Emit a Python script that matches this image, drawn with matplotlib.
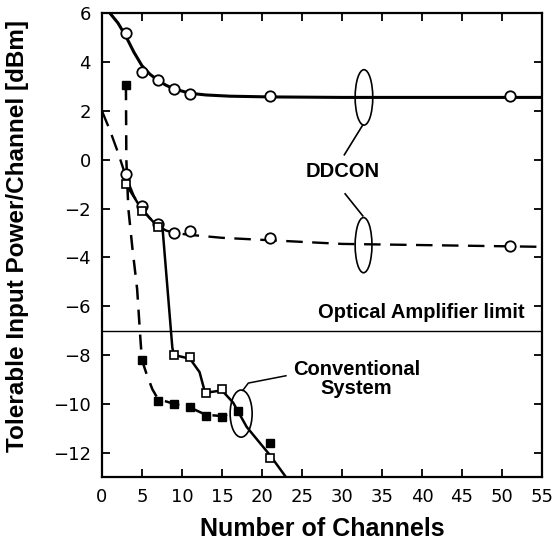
import matplotlib
matplotlib.use("Agg")
import matplotlib.pyplot as plt
from matplotlib.patches import Ellipse

# DDCON, upper group (open circles, solid curve)
ddcon_hi_x = [3, 5, 7, 9, 11, 21, 51]
ddcon_hi_y = [5.2, 3.6, 3.25, 2.9, 2.7, 2.6, 2.6]
ddcon_hi_fit_x = [1, 2, 3, 4, 5, 6, 7, 8, 9, 11, 13, 16, 21, 30, 55]
ddcon_hi_fit_y = [6.0, 5.6, 5.05, 4.4, 3.85, 3.5, 3.25, 3.05, 2.9, 2.72, 2.65, 2.6, 2.57, 2.55, 2.55]

# DDCON, lower group (open circles, dashed curve)
ddcon_lo_x = [3, 5, 7, 9, 11, 21, 51]
ddcon_lo_y = [-0.6, -1.9, -2.65, -3.0, -2.92, -3.2, -3.55]
ddcon_lo_fit_x = [0, 1, 2, 3, 4, 5, 6, 7, 8, 9, 11, 15, 21, 30, 51, 55]
ddcon_lo_fit_y = [2.0, 1.2, 0.3, -0.7, -1.5, -2.0, -2.4, -2.7, -2.9, -3.0, -3.08, -3.2, -3.3, -3.45, -3.55, -3.57]

# conventional system, open squares (solid curve)
conv_open_x = [3, 5, 7, 9, 11, 13, 15, 21]
conv_open_y = [-1.0, -2.1, -2.75, -8.0, -8.1, -9.55, -9.4, -12.2]
conv_open_fit_x = [3, 5, 7, 7.6, 8.8, 9, 11, 12.2, 12.9, 15, 16.4, 18.1, 21, 23]
conv_open_fit_y = [-1.0, -2.05, -2.75, -2.9, -7.7, -8.0, -8.15, -8.7, -9.55, -9.45, -9.95, -10.95, -12.1, -13.0]

# conventional system, filled squares (dashed curve)
conv_fill_x = [3, 5, 7, 9, 11, 13, 15, 17, 21]
conv_fill_y = [3.05, -8.2, -9.9, -10.0, -10.15, -10.5, -10.55, -10.3, -11.6]
conv_fill_fit_x = [3, 3.05, 3.3, 3.8, 4.4, 4.8, 5, 5.6, 6.3, 7, 9, 11, 13, 15, 17]
conv_fill_fit_y = [3.05, 0.0, -2.0, -3.6, -5.3, -7.3, -8.2, -8.8, -9.4, -9.8, -10.0, -10.15, -10.45, -10.5, -10.3]

amp_limit = -7.0

bold = {"family": "Liberation Sans", "weight": "bold"}

fig = plt.figure(figsize=(5.57, 5.49), dpi=100)
ax = fig.add_axes([0.183, 0.131, 0.790, 0.845])

ax.plot(ddcon_hi_fit_x, ddcon_hi_fit_y, color="black", lw=2.2, zorder=2)
ax.plot(ddcon_hi_x, ddcon_hi_y, "o", ms=7.5, mfc="white", mec="black", mew=1.3, zorder=4)

ax.plot(ddcon_lo_fit_x, ddcon_lo_fit_y, color="black", lw=1.7, ls=(0, (7, 4)), zorder=2)
ax.plot(ddcon_lo_x, ddcon_lo_y, "o", ms=7.5, mfc="white", mec="black", mew=1.3, zorder=4)

ax.plot(conv_open_fit_x, conv_open_fit_y, color="black", lw=1.8, zorder=2)
ax.plot(conv_open_x, conv_open_y, "s", ms=5.5, mfc="white", mec="black", mew=1.2, zorder=4)

ax.plot(conv_fill_fit_x, conv_fill_fit_y, color="black", lw=1.8, ls=(0, (6, 4)), zorder=2)
ax.plot(conv_fill_x, conv_fill_y, "s", ms=6, color="black", zorder=4)

ax.axhline(amp_limit, color="black", lw=1.0, zorder=1)
ax.text(52.8, -6.25, "Optical Amplifier limit", ha="right", va="center", fontsize=14.5, **bold)

# DDCON annotation
ax.text(30.1, -0.5, "DDCON", ha="center", va="center", fontsize=14.5, **bold)
ax.add_patch(Ellipse((32.75, 2.55), 2.2, 2.27, fill=False, lw=1.2, zorder=3))
ax.add_patch(Ellipse((32.7, -3.5), 2.1, 2.26, fill=False, lw=1.2, zorder=3))
ax.plot([32.6, 30.3], [1.42, 0.2], color="black", lw=1.2)
ax.plot([30.4, 32.6], [-1.4, -2.3], color="black", lw=1.2)

# conventional system annotation
ax.text(31.8, -9.0, "Conventional\nSystem", ha="center", va="center", fontsize=14.5,
        linespacing=1.0, **bold)
ax.add_patch(Ellipse((17.4, -10.4), 2.75, 1.93, fill=False, lw=1.2, zorder=3))
ax.plot([17.6, 18.3, 23.0], [-9.45, -9.15, -8.85], color="black", lw=1.1)

ax.set_xlim(0, 55)
ax.set_ylim(-13, 6)
ax.set_xticks(range(0, 56, 5))
ax.set_yticks(range(-12, 7, 2))
ax.set_yticklabels([str(v).replace("-", "\u2212") for v in range(-12, 7, 2)])
ax.tick_params(direction="in", length=6, width=1.3, top=True, right=True,
               labelsize=13, pad=8)
for s in ax.spines.values():
    s.set_linewidth(1.6)

ax.set_xlabel("Number of Channels", fontsize=18, **bold)
ax.set_ylabel("Tolerable Input Power/Channel [dBm]", fontsize=17.5, **bold)
ax.xaxis.set_label_coords(0.5, -0.085)
ax.yaxis.set_label_coords(-0.165, 0.52)

plt.savefig("out.png", dpi=100)
